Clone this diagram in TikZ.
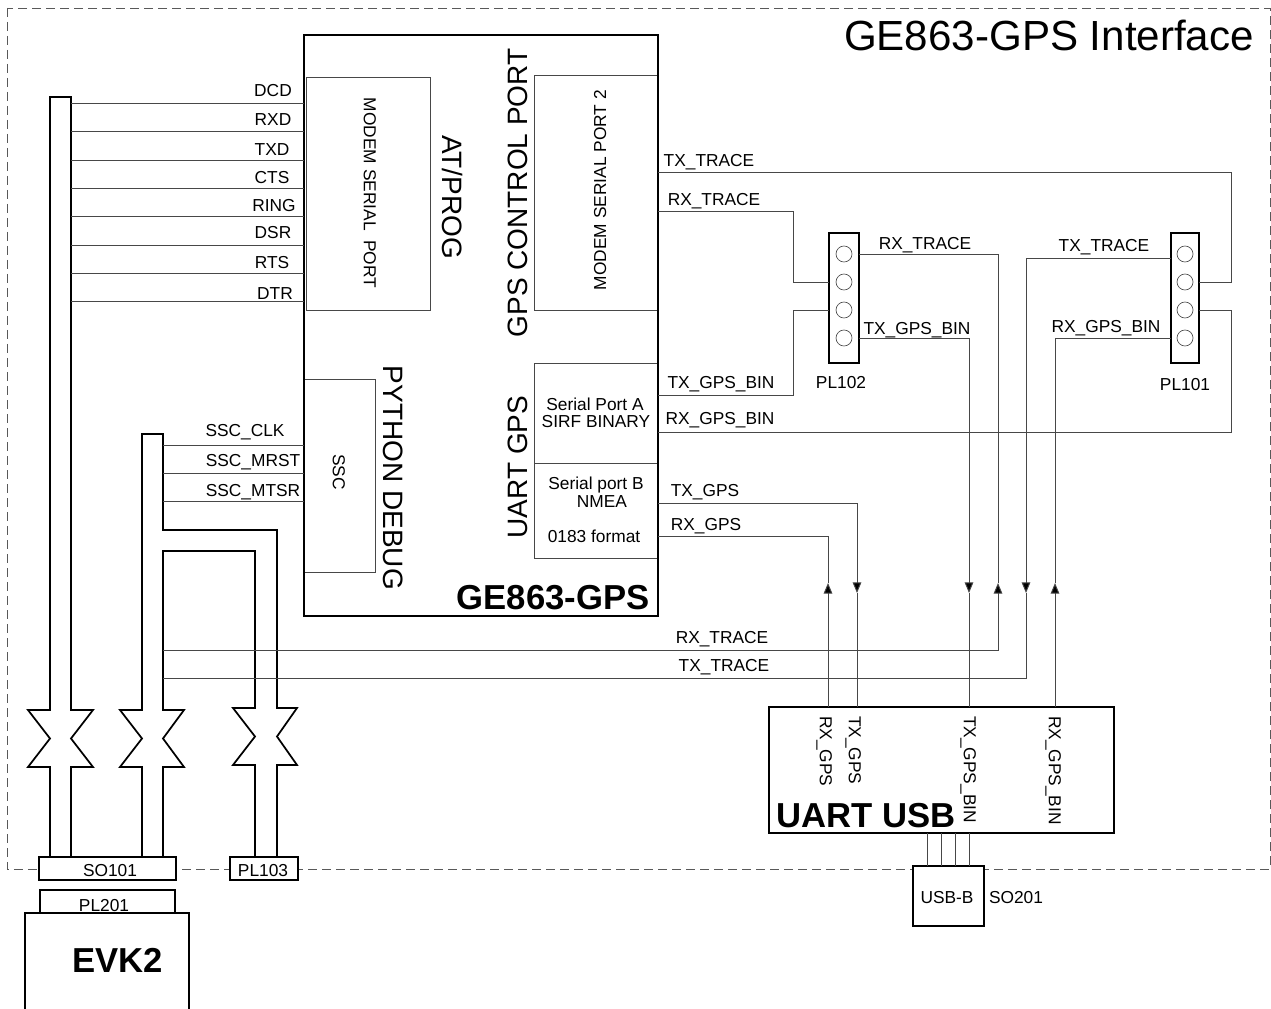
\documentclass[tikz,border=0pt]{standalone}
\usepackage{fontspec}
\setmainfont{Liberation Sans}
\usetikzlibrary{arrows.meta,calc}
\tikzset{
  thinbox/.style={draw=black!72,line width=0.7pt,rectangle,inner sep=0pt,outer sep=0pt,fill=white},
  heavybox/.style={draw=black,line width=2.1pt,rectangle,inner sep=0pt,outer sep=0pt,fill=white},
  midbox/.style={draw=black,line width=1.5pt,rectangle,inner sep=0pt,outer sep=0pt,fill=white},
  lightbox/.style={draw=black,line width=1.1pt,rectangle,inner sep=0pt,outer sep=0pt,fill=white},
  pinhole/.style={circle,draw=black!70,line width=0.5pt,minimum size=12pt,inner sep=0pt,outer sep=0pt},
  wire/.style={draw=black!72,line width=0.7pt},
  tube/.style={draw=black,line width=1.3pt,line join=miter},
  flowup/.style={wire,-{Triangle[length=8pt,width=6.5pt,fill=black]}},
  border/.style={draw=black!65,line width=0.7pt,dash pattern=on 6.5pt off 4pt},
  lbl/.style={inner sep=0pt,outer sep=0pt,font=\fontsize{13}{15}\selectfont,text height=9.3pt,text depth=0pt},
  biglbl/.style={inner sep=0pt,outer sep=0pt,font=\fontsize{21}{24}\selectfont,text height=15pt,text depth=0pt},
  boldlbl/.style={inner sep=0pt,outer sep=0pt,font=\bfseries\fontsize{26}{30}\selectfont,text height=18.7pt,text depth=0pt},
  titlelbl/.style={inner sep=0pt,outer sep=0pt,font=\fontsize{31.6}{36}\selectfont,text height=22.6pt,text depth=0pt},
}
\newcommand\bx[7]{%
  \pgfmathsetmacro\bxw{(#5-#3)*0.75}%
  \pgfmathsetmacro\bxh{(#6-#4)*0.75}%
  \node[#2,minimum width=\bxw pt,minimum height=\bxh pt] (#1) at ({(#3+#5)/2},{(#4+#6)/2}) {#7};}
\newcommand\tubeside[4]{% #1 inner x, #2 outer x, #3 y of the waist top, #4 y of the waist bottom
  (#1,#3) -- (#2,#3) -- (#1,{(#3+#4)/2}) -- (#2,#4) -- (#1,#4)}
\begin{document}
\begin{tikzpicture}[x=0.75pt,y=-0.75pt]
\useasboundingbox (0,0) rectangle (1271,1009);
% dashed outline of the board
\coordinate (bNW) at (7,8);
\coordinate (bSE) at (1270,869);
\draw[border] (bNW) rectangle (bSE);
\node[titlelbl] (title) at (1049,35) {GE863-GPS Interface};

% main module
\bx{ge}{heavybox}{304}{35}{658}{616}{}
\bx{msp}{thinbox}{306}{77}{430}{310}{}
\bx{msptwo}{thinbox}{534}{75}{658}{310}{}
\bx{spa}{thinbox}{534}{363}{658}{463}{}
\bx{spb}{thinbox}{534}{463}{658}{558}{}
\bx{ssc}{thinbox}{304}{379}{375}{572}{}
\draw[draw=black,line width=2.1pt] (ge.north west) rectangle (ge.south east);
\node[lbl,rotate=-90] (mspT) at (370,193) {MODEM SERIAL\ \ PORT};
\node[lbl,rotate=90] (msptwoT) at (600,190) {MODEM SERIAL PORT 2};
\node[lbl,rotate=-90] (sscT) at (339,472) {SSC};
\node[biglbl,rotate=-90] (atprog) at (452,197) {AT/PROG};
\node[biglbl,rotate=90] (gpsctl) at (517,193) {GPS CONTROL PORT};
\node[biglbl,rotate=-90] (pydbg) at (393,478) {PYTHON DEBUG};
\node[biglbl,rotate=90] (uartgps) at (517,467) {UART GPS};
\node[lbl] (spa1) at (595,404) {Serial Port A};
\node[lbl] (spa2) at (596,421) {SIRF BINARY};
\node[lbl] (spb1) at (596,483) {Serial port B};
\node[lbl] (spb2) at (602,501) {NMEA};
\node[lbl] (spb3) at (594,536) {0183 format};
\node[boldlbl] (geT) at (553,597) {GE863-GPS};

% connectors at the bottom edge
\bx{so}{midbox}{38.5}{857}{175.5}{880}{}
\bx{plc}{midbox}{230}{857}{298}{880}{}
\bx{plb}{lightbox}{40}{890}{175}{913}{}
\node[lbl] (soT) at (110,870) {SO101};
\node[lbl] (plcT) at (263,870) {PL103};
\node[lbl] (plbT) at (104,905) {PL201};
\coordinate (evkA) at (25,1012);
\coordinate (evkB) at (25,913);
\coordinate (evkC) at (189,913);
\coordinate (evkD) at (189,1012);
\draw[tube] (evkA) -- (evkB) -- (evkC) -- (evkD);
\node[boldlbl] (evkT) at (118,960) {EVK2};

% tube 1
\draw[tube] (50,857) -- (50,767) -- \tubeside{50}{28}{767}{710} -- (50,97) -- (71,97) -- (71,710)
  -- (93,710) -- (71,738.5) -- (93,767) -- (71,767) -- (71,857);
% tube 2
\draw[tube] (142,857) -- (142,767) -- \tubeside{142}{120}{767}{710} -- (142,434) -- (163,434) -- (163,530) -- (277,530) -- (277,708)
  -- (297,708) -- (277,736.5) -- (297,765) -- (277,765) -- (277,857);
\draw[tube] (163,857) -- (163,767) -- (184,767) -- (163,738.5) -- (184,710) -- (163,710) -- (163,551) -- (255,551) -- (255,708)
  -- (233,708) -- (255,736.5) -- (233,765) -- (255,765) -- (255,857);

% modem lines
\foreach \nm/\yy/\tx/\ty in {DCD/103/273/90,RXD/131.5/273/119,TXD/160/272/149,CTS/188/272/177,RING/216.5/274/205,DSR/245/273/232,RTS/273/272/262,DTR/301/275/293}{
  \coordinate (l\nm) at (71,\yy);
  \coordinate (r\nm) at (304,\yy);
  \draw[wire] (l\nm) -- (r\nm);
  \node[lbl] (t\nm) at (\tx,\ty) {\nm};
}
% SSC lines
\coordinate (sA) at (163,445); \coordinate (sB) at (163,473); \coordinate (sC) at (163,501);
\draw[wire] (sA) -- (sA -| ge.west);
\draw[wire] (sB) -- (sB -| ge.west);
\draw[wire] (sC) -- (sC -| ge.west);
\node[lbl] (tsA) at (245,430) {SSC\_CLK};
\node[lbl] (tsB) at (253,460) {SSC\_MRST};
\node[lbl] (tsC) at (253,490) {SSC\_MTSR};

% headers
\bx{plx}{heavybox}{829}{233}{859}{363}{}
\bx{ply}{heavybox}{1171}{233}{1199}{363}{}
\foreach \n/\yy in {a/254,b/282,c/310,d/338}{
  \node[pinhole] (x\n) at (844,\yy) {};
  \node[pinhole] (y\n) at (1185,\yy) {};
}
\node[lbl] (plxT) at (841,382) {PL102};
\node[lbl] (plyT) at (1185,384) {PL101};

% UART USB
\bx{uart}{heavybox}{769}{707}{1114}{833}{}
\bx{usb}{midbox}{913}{866}{984}{926}{}
\node[lbl] (usbT) at (947,897) {USB-B};
\node[lbl] (usbN) at (1016,897) {SO201};
\node[boldlbl] (uartT) at (866,815) {UART USB};
\node[lbl,rotate=-90,anchor=west] (uA) at (826,716) {RX\_GPS};
\node[lbl,rotate=-90,anchor=west] (uB) at (855,716) {TX\_GPS};
\node[lbl,rotate=-90,anchor=west] (uC) at (970,716) {TX\_GPS\_BIN};
\node[lbl,rotate=-90,anchor=west] (uD) at (1055,716) {RX\_GPS\_BIN};
\foreach \xx/\n in {927/a,941/b,955/c,969/d}{
  \coordinate (ut\n) at (\xx,833);
  \draw[wire] (ut\n) -- (ut\n |- usb.north);
}

% arrow positions
\coordinate (aA) at (828,583);
\coordinate (aB) at (857,593);
\coordinate (aC) at (969,593);
\coordinate (aD) at (998,583);
\coordinate (aE) at (1026,593);
\coordinate (aF) at (1055,583);

% module to headers
\coordinate (gA) at (658,172);
\coordinate (gB) at (658,211);
\coordinate (gC) at (658,395);
\coordinate (gD) at (658,432);
\coordinate (gE) at (658,503);
\coordinate (gF) at (658,536);
\coordinate (elbowL) at (793,282);
\coordinate (elbowR) at (1231,282);
\draw[wire] (gA) -| (elbowR) -- (yb -| ply.east);
\draw[wire] (gB) -| (elbowL) -- (xb -| plx.west);
\draw[wire] (gC) -| (elbowL |- xc) -- (xc -| plx.west);
\draw[wire] (gD) -| (elbowR |- yc) -- (yc -| ply.east);

% uart lines
\draw[flowup] (aA |- uart.north) -- (aA);
\draw[wire] (aA) |- (gF);
\draw[flowup] (gE) -| (aB);
\draw[wire] (aB) -- (aB |- uart.north);
\draw[flowup] (xd -| plx.east) -| (aC);
\draw[wire] (aC) -- (aC |- uart.north);
\draw[flowup] (aF |- uart.north) -- (aF);
\coordinate (yTxIn) at (1171,258);
\coordinate (yRxIn) at (1171,338);
\draw[wire] (aF) |- (yRxIn);
% trace lines
\coordinate (trR) at (163,650);
\coordinate (trT) at (163,678);
\draw[flowup] (trR) -| (aD);
\draw[wire] (aD) |- (xa -| plx.east);
\draw[flowup] (yTxIn) -| (aE);
\draw[wire] (aE) |- (trT);

% wire labels
\node[lbl] (w1) at (709,160) {TX\_TRACE};
\node[lbl] (w2) at (714,199) {RX\_TRACE};
\node[lbl] (w3) at (721,382) {TX\_GPS\_BIN};
\node[lbl] (w4) at (720,418) {RX\_GPS\_BIN};
\node[lbl] (w5) at (705,490) {TX\_GPS};
\node[lbl] (w6) at (706,524) {RX\_GPS};
\node[lbl] (w7) at (925,243) {RX\_TRACE};
\node[lbl] (w8) at (917,328) {TX\_GPS\_BIN};
\node[lbl] (w9) at (1104,245) {TX\_TRACE};
\node[lbl] (w10) at (1106,326) {RX\_GPS\_BIN};
\node[lbl] (w11) at (722,637) {RX\_TRACE};
\node[lbl] (w12) at (724,665) {TX\_TRACE};
\end{tikzpicture}
\end{document}
